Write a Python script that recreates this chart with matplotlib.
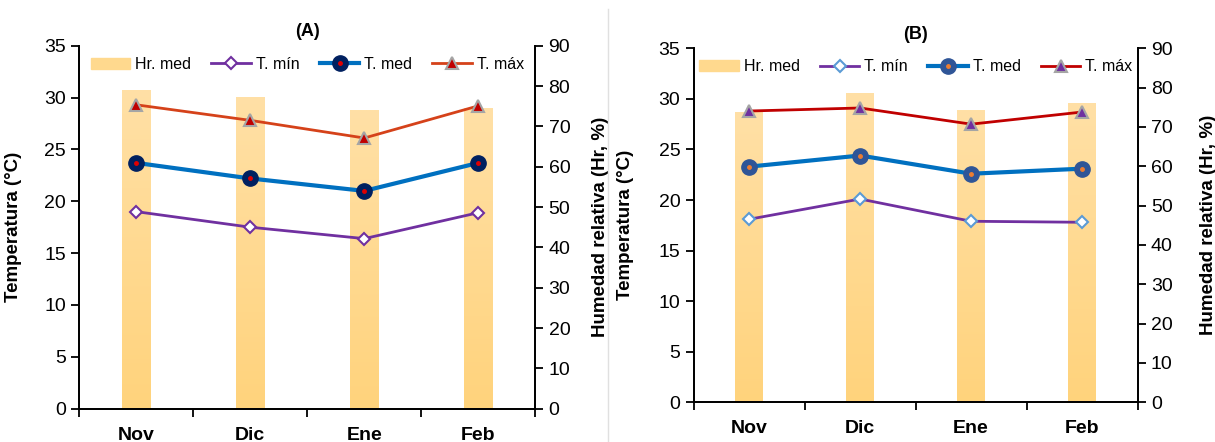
import matplotlib
matplotlib.use("Agg")
import matplotlib.pyplot as plt
from matplotlib.lines import Line2D
from matplotlib.colors import LinearSegmentedColormap
import numpy as np

# months on x axis
months = ["Nov", "Dic", "Ene", "Feb"]

# panel A values
hr_a = [79.1, 77.4, 74.1, 74.6]
tmin_a = [19.0, 17.5, 16.4, 18.9]
tmed_a = [23.7, 22.2, 21.0, 23.7]
tmax_a = [29.3, 27.8, 26.1, 29.2]

# panel B values
hr_b = [73.9, 78.7, 74.2, 76.2]
tmin_b = [18.1, 20.1, 17.9, 17.8]
tmed_b = [23.3, 24.4, 22.6, 23.1]
tmax_b = [28.8, 29.1, 27.5, 28.7]

plt.rcParams['font.family'] = ['Liberation Sans', 'DejaVu Sans']

BAR = "#FFD98E"
bar_cmap = LinearSegmentedColormap.from_list("hr", ["#FFD37C", "#FFE0A6"])


def panel(fig, rect, title, hr, tmin, tmed, tmax, styles, ylab_x):
    ax = fig.add_axes(rect)
    ax2 = ax.twinx()
    x = np.arange(len(months))

    bars = ax2.bar(x, hr, width=0.25, color=BAR, zorder=1, label="Hr. med")
    # soft vertical gradient inside each bar
    grad = np.linspace(0, 1, 256).reshape(-1, 1)
    for b in bars:
        b.set_facecolor("none")
        b.set_edgecolor("none")
        x0, w, h = b.get_x(), b.get_width(), b.get_height()
        im = ax2.imshow(grad, cmap=bar_cmap, origin="lower", aspect="auto",
                        extent=[x0, x0 + w, 0, h], zorder=1)
        im.set_clip_path(b)
    ax2.set_xlim(-0.5, len(months) - 0.5)
    ax2.set_ylim(0, 90)
    ax2.set_yticks(range(0, 91, 10))
    ax.set_zorder(ax2.get_zorder() + 1)
    ax.patch.set_visible(False)

    l1, = ax.plot(x, tmin, color="#7030A0", lw=2, marker="D", ms=6,
                  mfc="white", mec=styles["min_mec"], mew=1.5)
    l2, = ax.plot(x, tmed, color="#0070C0", lw=3, marker="o", ms=11,
                  mfc=styles["med_face"], mec=styles["med_face"])
    d2, = ax.plot(x, tmed, ls="none", marker="o", ms=2.5,
                  mfc=styles["med_dot"], mec=styles["med_dot"])
    l3, = ax.plot(x, tmax, color=styles["max_line"], lw=2, marker="^", ms=9,
                  mfc=styles["max_face"], mec="#A5A5A5", mew=1.5)

    ax.set_xlim(-0.5, len(months) - 0.5)
    ax.set_ylim(0, 35)
    ax.set_yticks(range(0, 36, 5))
    ax.set_xticks(x)
    ax.set_xticklabels(months, fontsize=14, fontweight="bold")
    ax.set_xticks(np.arange(-0.5, len(months), 1), minor=True)
    ax.tick_params(axis="x", which="major", length=0, pad=13)
    ax.tick_params(axis="x", which="minor", length=6, width=1.3, direction="out")
    ax.tick_params(axis="y", labelsize=14, length=6, width=1.3)
    ax2.tick_params(axis="y", labelsize=14, length=6, width=1.3)

    for a in (ax, ax2):
        a.spines["top"].set_visible(False)
        for s in ("left", "right", "bottom"):
            a.spines[s].set_linewidth(1.3)

    ax.set_ylabel("Temperatura (°C)", fontsize=13.5, fontweight="bold")
    ax.yaxis.set_label_coords(ylab_x[0], 0.5)
    ax2.set_ylabel("Humedad relativa (Hr, %)", fontsize=13.5, fontweight="bold")
    ax2.yaxis.set_label_coords(ylab_x[1], 0.5)
    ax.set_title(title, fontsize=13, fontweight="bold", pad=7)

    bar_h = plt.Rectangle((0, 0), 1, 1, color=BAR)
    ax.legend([bar_h, l1, (l2, d2), l3], ["Hr. med", "T. mín", "T. med", "T. máx"],
              loc="center", ncol=4, frameon=False, fontsize=11.5,
              bbox_to_anchor=(0.5, 0.948), handlelength=2.5, columnspacing=1.25,
              handletextpad=0.3)
    return ax


fig = plt.figure(figsize=(12.15, 4.42), dpi=100)

panel(fig, [0.0653, 0.0753, 0.3753, 0.8213], "(A)", hr_a, tmin_a, tmed_a, tmax_a,
      dict(min_mec="#7030A0", med_face="#002060", med_dot="#E00000",
           max_line="#D5421A", max_face="#C00000"), (-0.125, 1.125))
panel(fig, [0.5709, 0.0898, 0.3654, 0.8009], "(B)", hr_b, tmin_b, tmed_b, tmax_b,
      dict(min_mec="#5B9BD5", med_face="#2F5597", med_dot="#ED7D31",
           max_line="#C00000", max_face="#7030A0"), (-0.135, 1.14))

# thin divider between the two panels
fig.add_artist(Line2D([0.5005, 0.5005], [0.0, 0.98], color="#E0E0E0", lw=1))

fig.savefig("out.png", dpi=100)
